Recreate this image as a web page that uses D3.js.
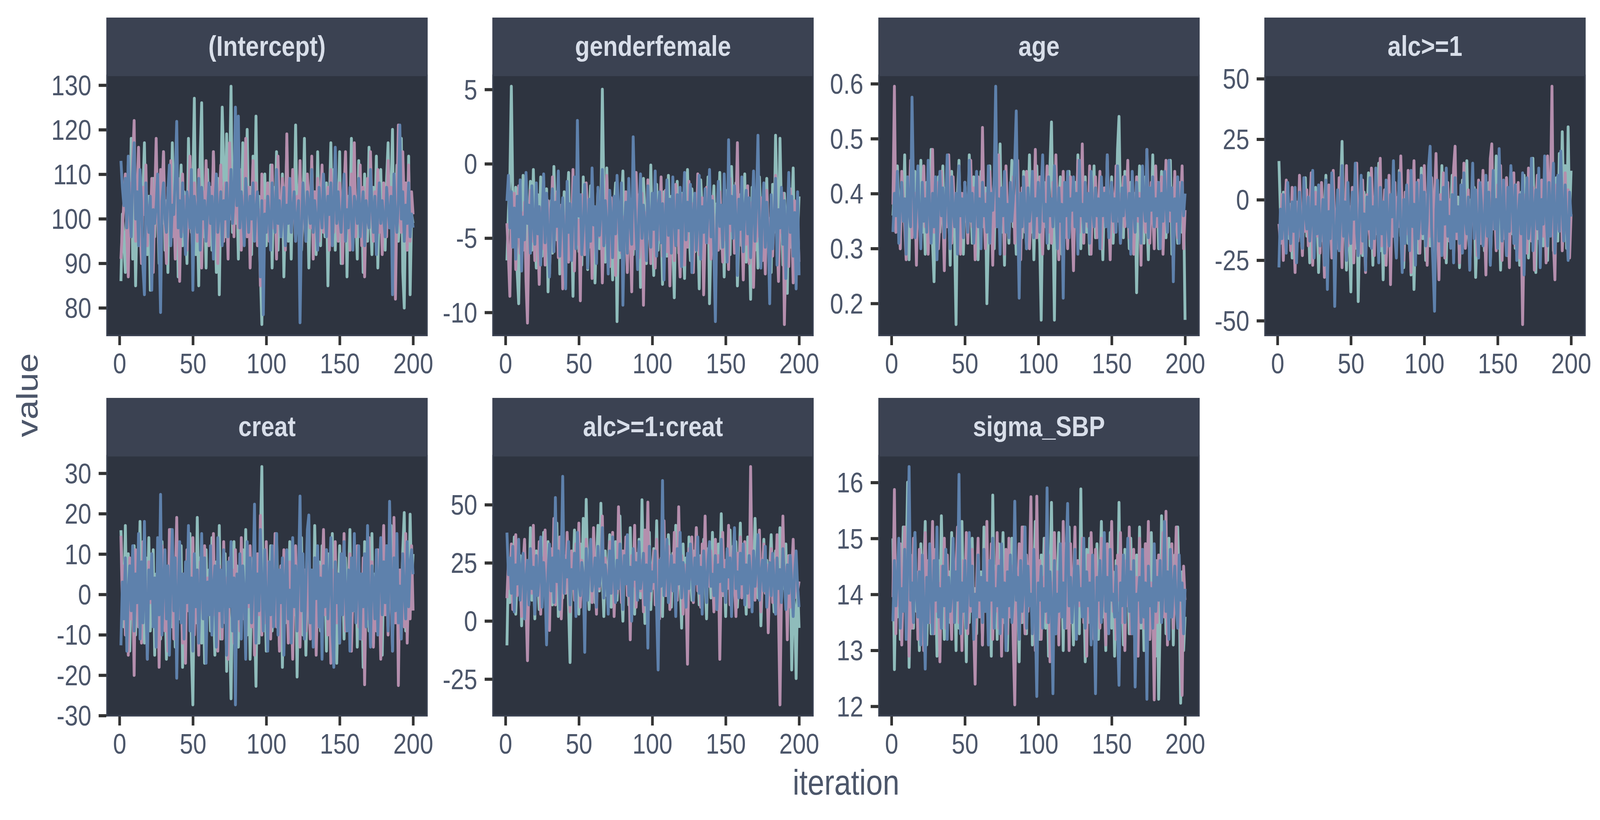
<!DOCTYPE html>
<html>
<head>
<meta charset="utf-8">
<script src="https://cdn.jsdelivr.net/npm/d3@7"></script>
<style>
html,body{margin:0;padding:0;background:#ffffff;overflow:hidden;}
svg{display:block;}
</style>
</head>
<body>
<svg id="chart"></svg>
<script>
// ---------------- data ----------------
const parameters = ["(Intercept)", "genderfemale", "age", "alc>=1", "creat", "alc>=1:creat", "sigma_SBP"];
const chains = ["1", "2", "3"];
const xTickValues = [0, 50, 100, 150, 200];
const yTickValues = [
  [80, 90, 100, 110, 120, 130],
  [-10, -5, 0, 5],
  [0.2, 0.3, 0.4, 0.5, 0.6],
  [-50, -25, 0, 25, 50],
  [-30, -20, -10, 0, 10, 20, 30],
  [-25, 0, 25, 50],
  [12, 13, 14, 15, 16]
];

const intercept_c1 = [86,101,95,88,104,112,97,118,91,108,85,103,99,110,94,106,117,98,92,105,
84,100,109,96,113,102,90,107,99,115,93,104,88,111,98,117,101,95,109,87,
103,112,94,106,99,90,118,105,97,108,127,92,101,85,114,126,96,104,89,111,
98,107,93,115,100,88,109,83,104,125,112,96,119,102,108,129.7,97,113,99,106,
91,110,101,117,95,104,120,98,107,92,114,100,123,96,105,88,76.3,99,110,94,
103,96,112,89,107,100,115,93,104,98,110,87,102,116,95,106,91,109,100,121,
97,104,111,93,101,118,95,107,89,103,113,99,106,92,115,100,94,109,102,96,
108,85,104,117,98,111,93,106,101,115,90,103,97,112,87,105,99,118,94,108,
101,91,113,97,106,88,110,103,95,116,100,92,107,98,114,89,104,111,96,102,
93,109,117,98,105,120,91,103,112,95,100,118,88,80,106,97,114,83,101,99];
const intercept_c2 = [91,98,104,110,96,87,108,100,113,122,95,105,116,99,90,107,101,112,94,103,
97,109,88,104,118,100,93,111,106,115,98,90,107,102,113,96,104,91,100,109,
86,103,110,97,105,93,101,114,99,92,108,102,95,111,104,89,106,98,113,100,
94,107,101,115,97,109,90,104,112,99,95,108,103,91,117,100,106,96,120,102,
98,111,93,105,100,118,96,107,89,103,113,99,108,94,102,85,110,97,104,100,
108,95,103,112,98,106,91,114,101,96,109,104,93,119,100,107,97,111,103,95,
105,99,113,94,108,101,96,110,103,98,114,91,106,100,109,95,104,112,97,102,
99,107,93,111,104,97,113,100,95,108,102,90,106,115,98,104,93,110,101,117,
96,105,99,112,94,107,87,103,109,98,115,101,95,106,100,111,97,104,92,108,
102,96,113,99,107,94,110,82,104,121,100,97,115,103,108,93,112,95,106,101];
const intercept_c3 = [113,107,103,109,98,114,102,96,110,117,100,106,94,111,104,89,83,108,101,97,
105,84,102,99,103,110,95,79,104,108,100,97,106,112,94,103,101,109,121.8,98,
104,96,108,100,92,106,103,98,111,84,105,101,97,109,93,107,100,104,95,102,
108,99,105,91,103,110,97,101,106,94,104,100,108,96,102,111,99,105,125,103,
123,98,106,101,94,109,103,97,105,100,108,95,102,106,99,87,104,78.5,101,97,
105,100,93,108,102,97,111,99,104,96,101,107,94,103,99,109,97,102,106,95,
100,104,76.7,98,108,101,95,106,103,99,111,97,104,100,93,107,102,98,110,103,
96,105,101,108,94,103,116,99,106,100,97,104,110,95,102,98,107,101,93,105,
103,99,109,96,102,106,94,104,100,98,111,103,97,105,92,101,108,99,104,100,
96,107,102,98,105,83,110,101,97,104,121,100,106,95,103,99,108,96,101,98];

const gender_c1 = [-6.5,-3.2,-1.0,5.2,-2.4,-4.8,-1.6,-7.3,-9.4,-3.9,-5.6,-0.8,-4.1,-2.7,-6.9,-3.5,-1.2,-5.8,-0.4,-4.4,
-7.0,-2.1,-4.9,-0.9,-6.2,-3.0,-5.3,-1.7,-8.6,-4.0,-2.5,-6.0,-0.2,-3.7,-5.1,-1.4,-7.4,-3.3,-4.6,-1.9,
-5.5,-2.8,-0.6,-6.4,-3.6,-8.9,-2.2,-4.7,-1.1,-5.9,-3.1,-6.8,-0.9,-4.3,-2.6,-7.1,-3.8,-1.5,-5.0,-2.9,
-8.0,-4.2,-1.8,-5.7,-3.4,5.0,-2.0,-6.6,-0.3,-4.5,-2.3,-5.2,-7.8,-3.0,-1.3,-10.6,-4.1,-6.3,-2.7,-0.5,
-5.4,-3.6,-7.2,-1.6,-4.8,-2.4,-6.1,-0.7,-3.9,-5.6,-2.1,-8.3,-4.4,-1.0,-3.2,-6.7,-2.8,-5.0,-0.1,-4.6,
-7.5,-3.3,-1.4,-5.8,-2.5,-4.0,-8.1,-1.9,-3.7,-6.2,-0.8,-4.9,-2.2,-5.5,-9.0,-3.1,-1.2,-6.0,-3.8,-2.0,
-5.1,-7.7,-2.9,-0.4,-4.3,-6.5,-1.7,-3.5,-5.9,-2.3,-4.7,-8.4,-1.1,-3.0,-6.3,-2.6,-4.2,-0.9,-9.4,-5.2,
-3.4,-1.5,-6.9,-2.7,-4.5,-0.6,-5.7,-3.2,-7.6,-1.8,-4.0,-2.4,-6.1,-0.2,-3.6,-5.3,-1.3,-8.2,-4.8,-2.1,
-5.5,-3.0,-0.7,-6.6,-2.8,-4.4,-9.1,-1.6,-3.9,-5.8,-2.2,-7.0,-0.9,-4.1,-2.5,-6.2,-3.3,-1.0,-5.0,-3.7,
-7.3,-1.4,-4.6,1.9,-2.6,-5.4,1.7,-3.1,-6.8,-2.0,-4.3,-8.7,-1.2,-5.6,-3.5,-0.3,-6.4,-2.9,-4.7,-2.2];
const gender_c2 = [-4.0,-6.2,-8.9,-3.1,-5.5,-2.0,-7.1,-4.4,-1.5,-6.0,-3.3,-5.8,-2.6,-7.9,-10.7,-4.6,-1.8,-5.2,-3.7,-6.5,
-2.3,-4.9,-8.1,-3.0,-5.7,-1.2,-6.8,-3.9,-2.5,-7.4,-4.3,-0.9,-5.9,-3.4,-1.9,-6.3,-4.7,-2.8,-8.4,-3.6,
-5.0,-1.6,-6.6,-3.2,-4.8,-0.4,-7.2,-2.9,-5.4,-3.8,-9.2,-2.1,-4.5,-6.1,-1.3,-3.5,-5.6,-2.4,-7.7,-4.1,
-3.0,-6.4,-1.7,-4.9,-2.6,-8.0,-3.9,-5.3,-0.8,-4.2,-6.9,-2.3,-5.0,-3.4,-7.5,-1.5,-4.6,-2.7,-6.0,-3.6,
-5.2,-1.9,-7.3,-3.1,-4.4,-8.6,-2.2,-5.7,-0.6,-3.8,-6.3,-4.7,-2.0,-9.5,-3.3,-5.5,-1.1,-4.0,-6.7,-2.8,
-4.9,-7.0,-2.5,-5.1,-3.7,-0.9,-6.2,-4.3,-1.8,-5.9,-3.2,-8.2,-2.6,-4.6,-6.5,-1.4,-3.9,-5.4,-7.6,-2.1,
-4.1,-6.8,-3.0,-5.6,-1.2,-4.4,-2.7,-7.3,-3.5,-5.0,-0.7,-6.1,-3.8,-2.3,-8.8,-4.7,-1.6,-5.3,-3.1,-6.4,
-2.2,-4.8,-9.3,-3.4,-5.8,-1.9,-4.0,-6.6,-2.9,-5.1,-3.6,-7.1,-1.0,-4.5,-2.4,-6.0,-3.3,1.4,-5.5,-2.8,
-4.2,-7.8,-3.0,-5.4,-1.5,-6.7,-4.1,-2.6,-8.3,-3.7,-5.2,-0.5,-4.9,-2.3,-6.5,-3.9,-7.4,-1.8,-4.4,-5.9,
-2.7,-6.2,-3.5,-0.8,-5.0,-7.9,-3.2,-4.6,-2.0,-10.8,-5.7,-3.4,-6.9,-1.7,-4.3,-8.0,-2.5,-5.1,-3.8,-6.6];
const gender_c3 = [-2.5,-0.8,-4.3,-1.9,-5.6,-3.0,-6.4,-2.2,-4.9,-1.1,-7.2,-3.6,-5.1,-0.6,-4.0,-2.8,-6.0,-1.5,-3.9,-5.4,
-1.3,-4.7,-2.9,-6.8,-3.4,-0.7,-5.3,-2.0,-4.5,-7.6,-3.1,-1.7,-5.9,-2.6,-4.2,-0.5,-6.2,-3.7,-2.3,-5.0,
-8.4,-1.2,-4.6,-2.7,-6.5,-3.2,-0.9,-5.7,2.9,-3.5,-2.1,-6.1,-4.4,-1.4,-3.8,-7.0,-2.4,-5.2,-0.3,-4.1,
-2.9,-6.7,-1.6,-4.8,-3.3,-0.4,-5.5,-2.5,-4.0,-7.4,-1.8,-3.6,-6.3,-2.2,-4.7,-0.8,-3.0,-5.8,-1.3,-9.5,
-4.3,-2.6,-6.0,-1.0,-3.9,-5.4,1.8,-2.3,-4.6,-7.1,-3.2,-0.7,-5.0,-2.8,-4.1,-6.5,-1.5,-3.7,-5.6,-2.0,
-4.4,-0.5,-6.2,-3.0,-1.9,-5.3,-2.7,-7.8,-3.5,-1.1,-4.8,-2.4,-6.0,-0.9,-3.8,-5.5,-2.1,-4.3,-1.6,-6.9,
-3.1,-0.6,-5.1,-2.6,-4.5,-1.4,-7.3,-3.4,-2.0,-5.8,-3.9,-0.8,-6.4,-2.9,-4.6,-1.7,-5.3,-3.2,-0.4,-4.9,
-2.5,-6.1,-10.6,-3.6,-1.2,-4.2,-2.8,-5.6,-0.7,-3.3,-6.6,1.6,-4.0,-2.2,-5.0,-1.5,-3.7,-7.5,-2.4,-4.4,
-0.9,-5.9,-3.0,-1.8,-4.7,-2.3,-6.3,-3.5,-0.5,-5.2,-2.7,1.9,-4.1,-7.0,-3.4,-1.3,-5.6,-2.6,-4.8,-9.4,
-2.1,-5.7,-3.8,-1.0,-6.8,-3.1,-4.3,-1.6,-5.4,-2.5,-7.7,-3.9,-0.6,-4.6,-2.2,-6.2,-3.3,-8.4,-1.9,-7.5];

const age_c1 = [.36,.41,.33,.45,.38,.30,.43,.35,.47,.32,.39,.28,.42,.37,.34,.44,.31,.40,.36,.46,
.33,.39,.29,.42,.37,.35,.48,.31,.24,.40,.36,.43,.33,.38,.45,.30,.41,.35,.39,.27,
.44,.37,.32,.162,.40,.46,.34,.38,.29,.42,.36,.33,.47,.39,.31,.43,.35,.40,.28,.38,
.44,.34,.37,.41,.20,.32,.45,.36,.39,.30,.43,.35,.38,.49,.33,.40,.27,.42,.36,.31,
.39,.46,.34,.37,.29,.42,.35,.40,.32,.44,.38,.30,.36,.47,.33,.41,.28,.39,.45,.35,
.31,.17,.38,.42,.34,.37,.30,.45,.53,.36,.17,.40,.33,.38,.43,.29,.35,.41,.37,.32,
.44,.36,.39,.31,.42,.34,.47,.38,.30,.40,.35,.43,.33,.37,.29,.41,.36,.45,.32,.39,
.34,.42,.37,.28,.40,.35,.46,.33,.38,.43,.31,.39,.36,.48,.54,.37,.41,.32,.44,.35,
.38,.30,.42,.36,.33,.40,.22,.37,.45,.34,.39,.31,.43,.36,.28,.41,.35,.47,.33,.38,
.42,.30,.37,.44,.34,.39,.32,.40,.36,.46,.29,.38,.43,.35,.31,.41,.37,.33,.39,.17];
const age_c2 = [.38,.595,.33,.41,.36,.30,.44,.39,.34,.28,.42,.37,.46,.32,.35,.40,.27,.43,.36,.31,
.39,.45,.34,.37,.29,.41,.36,.48,.33,.38,.42,.30,.35,.44,.37,.26,.40,.34,.47,.39,
.31,.43,.36,.38,.33,.45,.29,.40,.35,.42,.37,.31,.39,.46,.34,.41,.28,.38,.43,.36,
.32,.52,.37,.30,.40,.35,.44,.38,.27,.42,.34,.39,.47,.33,.36,.41,.29,.45,.37,.32,
.40,.35,.43,.31,.38,.46,.34,.28,.41,.37,.33,.44,.39,.30,.36,.42,.35,.48,.32,.38,
.43,.34,.29,.40,.37,.45,.33,.39,.31,.42,.36,.47,.35,.28,.41,.38,.44,.32,.37,.30,
.39,.43,.35,.26,.40,.36,.46,.33,.38,.49,.31,.42,.37,.34,.45,.29,.40,.36,.43,.32,
.38,.44,.30,.37,.41,.34,.47,.36,.28,.42,.39,.33,.45,.35,.40,.31,.37,.43,.34,.39,
.46,.32,.38,.41,.29,.36,.43,.35,.40,.27,.44,.37,.33,.48,.39,.31,.42,.36,.30,.45,
.34,.40,.37,.43,.29,.38,.46,.33,.41,.35,.39,.26,.44,.36,.32,.42,.38,.45,.30,.37];
const age_c3 = [.33,.40,.36,.44,.31,.38,.42,.35,.39,.29,.43,.37,.34,.575,.41,.32,.38,.45,.36,.30,
.42,.35,.39,.33,.46,.37,.31,.40,.34,.43,.28,.38,.44,.36,.41,.32,.39,.47,.35,.30,
.43,.37,.34,.40,.29,.45,.36,.39,.32,.42,.38,.33,.46,.35,.40,.31,.37,.44,.34,.39,
.30,.42,.36,.38,.33,.45,.31,.40,.37,.43,.595,.34,.39,.29,.41,.36,.44,.33,.38,.32,
.42,.35,.39,.46,.55,.36,.21,.40,.34,.43,.37,.30,.41,.35,.38,.44,.32,.39,.36,.42,
.33,.40,.47,.35,.38,.31,.43,.36,.39,.34,.45,.37,.30,.41,.35,.38,.21,.42,.36,.44,
.32,.39,.37,.43,.34,.40,.29,.46,.36,.38,.33,.42,.35,.40,.31,.44,.37,.34,.41,.36,
.39,.30,.43,.36,.40,.34,.47,.32,.38,.42,.35,.39,.33,.45,.37,.31,.41,.36,.43,.38,
.34,.40,.29,.44,.37,.33,.42,.36,.39,.31,.45,.38,.35,.48,.32,.41,.37,.43,.34,.39,
.36,.42,.30,.40,.35,.44,.38,.33,.46,.37,.41,.24,.39,.35,.43,.31,.38,.42,.36,.40];

const alc_c1 = [16,-5,-14,3,-20,-9,6,-16,-2,-24,-11,1,-18,-7,4,-13,-22,-3,9,-15,
-8,-26,0,-12,-19,5,-6,-30,-10,2,-17,-4,10,-21,-9,-1,-14,7,-25,-11,
-3,-18,4,24,-13,-7,-29,-2,-16,-38,0,-10,-20,6,-42,-12,-5,-23,3,-15,
-8,11,-19,-4,-27,1,-14,-9,15,-21,-6,-33,2,-17,-11,8,-24,-3,-13,4,
-20,-7,12,-15,-1,-28,-10,5,-18,-5,-31,0,-37,-12,7,-22,-8,13,-16,-3,
-25,2,-11,-19,9,-6,-30,-14,3,-21,-9,14,-17,-2,-26,6,-12,-7,10,-23,
-4,-16,1,-28,-10,8,-19,-5,16,-14,-22,0,-9,5,-32,-13,3,-18,-6,11,
-21,-2,-15,7,-26,-8,2,-12,18,-19,-4,-29,4,-11,-16,9,-23,-7,13,-14,
-1,-20,6,-10,-27,3,-15,10,-18,-6,-24,1,-12,17,-9,-30,5,-16,-3,8,
-19,12,-7,-25,2,-13,15,-21,-5,9,-17,19,-10,28,-4,14,-20,30,-8,12];
const alc_c2 = [-10,-18,2,-25,-6,8,-14,-3,-21,5,-12,-30,-1,-17,10,-8,-23,0,-13,4,
-19,-5,11,-27,-9,3,-15,-2,-22,7,-11,-32,1,-16,6,-7,-24,12,-13,-4,
-20,9,-8,-28,0,-14,14,-19,-3,-11,5,-26,-6,15,-17,-1,-22,8,-12,-30,
2,-9,-16,13,-5,-23,6,-13,-1,17,-19,-7,4,-27,-10,10,-35,-3,-15,7,
-21,1,-11,18,-6,-25,3,-14,12,-9,-30,-2,16,-18,-4,8,-22,0,-12,14,
-7,-27,5,-15,9,-20,-1,19,-10,-33,2,-13,11,-24,-5,7,-17,0,-9,13,
22,-16,-3,-26,6,-11,15,-20,-6,4,-29,-8,10,-14,1,-23,8,-4,-18,12,
-9,-31,3,-15,17,23,-12,-2,-21,6,-7,14,-25,-1,-16,9,-10,-28,4,-13,
11,-19,-5,7,-24,-8,-51.5,-14,2,-22,13,-6,-17,5,-29,-3,10,-11,-20,8,
-15,1,-26,18,-9,3,46.8,-18,-33,6,-12,-2,16,-21,-7,11,-14,4,-24,-6];
const alc_c3 = [-28,-4,-16,2,-11,-22,7,-7,-18,-1,-13,5,-26,-9,3,-15,-20,9,-6,-12,
1,-17,-8,12,-24,-3,-14,6,-19,-10,0,-27,8,-37,-5,-16,11,-2,-44,-13,
4,-21,-7,14,-15,-1,-25,7,-11,-18,3,-8,15,-14,-23,-4,10,-17,-6,-29,
1,-12,9,-20,-3,-16,13,-9,-26,5,-14,-1,-22,8,-10,-19,2,-7,16,-15,
-24,-5,11,-13,-30,0,-18,6,-8,-21,12,-11,-2,-27,7,-16,-6,10,-14,3,
-19,-9,14,22,-12,-28,-46,-4,8,-17,-1,-23,5,-10,13,-15,-7,-20,2,-26,
9,-13,-3,-18,6,-22,11,-8,-14,1,-29,-5,15,-16,4,-11,-24,7,-2,-19,
-9,10,-15,3,-27,-6,12,-12,0,-20,21,-4,-17,8,-10,-23,5,-13,14,-1,
-18,6,-25,-7,2,-14,11,-31,-3,9,-16,-9,17,-21,-5,4,-12,13,-28,0,
-10,18,-6,-19,7,-15,-1,15,-22,-8,10,-13,20,-4,-17,6,-11,-25,3,-7];

const creat_c1 = [15.9,4,-8,17,-3,10,-14,2,-6,12,-10,6,-1,18,-7,3,-12,9,-4,14,
-9,1,11,-15,5,-2,8,-11,13,-5,0,-16,7,-3,16,-8,4,-13,10,-1,
-6,12,-18,2,-10,7,-4,15,-14,-27.3,5,-7,19,-2,9,-12,3,-17,11,-5,
6,-9,14,-1,-15,8,-6,17,-11,2,-3,10,-19,4,-8,-25.8,1,13,-5,7,
-13,3,-7,11,-2,16,-10,5,-16,0,9,-4,-22.7,6,-12,14,31.6,-8,2,-14,
8,-3,12,-9,4,-6,15,-1,-13,7,-18,3,-7,10,-2,13,-11,5,-5,9,
-20.4,1,-4,14,-10,6,-15,2,11,-7,4,-12,17,-1,-6,8,-9,12,-3,5,
-14,10,-5,2,15,-8,7,-17,0,12,-3,6,-11,9,-6,3,16,-10,1,-4,
11,-13,7,-2,4,-18,13,-6,8,-9,2,15,-12,5,-3,10,-7,1,-15,6,
-1,12,-8,4,17,-11,3,-5,9,-14,6,-2,11,20.2,-9,7,-4,19.8,2,10];
const creat_c2 = [14.5,-3,7,-10,2,-15,9,-6,4,-20,11,-1,-8,5,-12,13,-4,0,-16,8,
-2,10,-7,3,-13,6,-18,1,12,-5,-9,4,-14,16,-3,7,-11,2,19,-6,
9,-1,-12,5,-17,11,-4,3,-8,14,-10,6,-2,-15,8,1,-6,12,-13,4,
-3,10,-9,15,-5,2,-14,7,-1,-11,13,-7,4,-16,9,-2,6,-12,11,-4,
3,-9,14,-6,1,-13,8,-3,12,-8,5,-15,2,10,-5,19.5,-10,4,-7,13,
-2,6,-11,9,-4,15,-8,1,-14,7,-3,11,-6,3,-12,8,-1,-16,5,12,
-7,2,-13,10,-4,6,-9,14,-2,-11,4,-6,9,-15,1,7,-8,3,16,-5,
11,-10,2,-17,6,-3,13,-7,4,-12,8,-1,15,-9,3,-5,10,-14,0,7,
-4,12,-8,5,-11,9,-22.3,2,-6,14,-3,8,-13,4,-9,11,-1,-16,6,17,
-5,3,-10,9,1,-14,19,-7,13,-22.5,6,-3,10,-8,15,-12,4,-6,12,-4];
const creat_c3 = [-12.6,3,-6,9,-14,1,7,-4,12,-9,5,-2,15,-11,8,-7,18,-3,-16,6,
-1,10,-8,4,-13,14,-5,24.7,-10,2,11,-6,7,-15,3,16,-4,9,-20.7,0,
13,-7,5,-11,8,-2,17,-9,4,-14,10,-3,6,-12,1,15,-6,9,-17,3,
-5,12,-10,2,7,-13,14,-4,6,-8,11,0,-15,8,-3,13,-9,4,-27.3,5,
-6,10,-11,7,1,-16,13,-2,9,-7,3,22.3,-12,5,-4,16,2,-9,11,-1,
-14,8,-5,12,-8,3,15,-10,6,-2,9,-15,4,11,-6,1,-12,14,-3,7,
-9,5,24.3,-4,10,-11,2,16,19.6,-7,6,-13,9,-1,12,-8,4,-16,7,-3,
11,-6,3,14,-10,-18,8,-2,5,-12,10,-5,13,1,-9,6,-14,9,-4,15,
-7,2,12,-11,5,-3,10,-8,17,-1,-13,7,3,-6,11,-10,4,14,-5,8,
-2,12,-9,23,5,-14,9,-4,15,-7,2,-11,10,1,-6,13,-3,8,11,5];

const alccreat_c1 = [-10.5,24,8,31,15,36,3,21,12,28,-2,18,33,6,25,14,40,9,22,1,
30,17,5,27,13,38,20,-4,34,11,24,7,29,16,42,2,19,35,10,23,
14,31,6,-17.8,26,18,39,9,22,3,33,15,44,12,52.2,20,5,28,17,36,
8,25,41,13,50.5,19,2,30,11,23,37,6,27,15,34,9,21,45,14,0,
26,18,32,7,40,12,24,3,29,16,35,10,52,20,-1,28,14,38,5,22,
31,13,43,8,26,17,2,34,19,11,37,23,6,29,15,41,10,25,18,-3,
33,12,27,4,36,20,9,30,16,40,22,7,28,13,35,18,1,31,24,10,
38,15,26,5,33,19,46,11,23,2,30,17,39,9,25,14,34,6,21,42,
12,28,18,3,36,20,8,31,15,44,24,10,29,-2,19,35,13,26,7,22,
37,16,4,30,11,25,40,9,21,14,33,1,18,28,-21,12,6,-24.7,16,-3];
const alccreat_c2 = [9.8,26,14,33,5,21,37,11,29,17,2,24,35,8,-17,19,30,12,41,6,
23,15,34,3,27,18,39,10,22,-4,31,14,44,7,25,16,36,1,20,28,
12,38,19,4,30,23,9,33,15,42,6,26,17,-6,35,11,22,29,8,40,
18,3,31,14,24,45,10,27,19,5,34,16,38,2,22,12,49,25,8,30,
17,36,11,23,-8,28,15,41,6,20,33,13,26,4,39,18,51,9,24,14,
30,7,35,19,1,27,16,43,11,22,32,5,25,14,38,20,9,49,17,28,
3,24,12,-18.5,31,18,36,8,21,40,13,27,6,33,19,45,10,25,15,30,
22,4,35,17,28,-16.4,20,38,11,26,14,41,7,23,32,16,2,29,19,36,
10,25,34,13,21,6,66.3,18,30,9,27,15,39,4,22,33,12,24,-5,19,
31,8,26,14,37,3,-36,11,45,17,23,-8,28,6,20,35,10,24,13,17];
const alccreat_c3 = [38,20,27,12,32,4,24,16,35,9,22,29,1,18,26,7,31,14,23,3,
28,11,19,36,6,25,15,-10.2,21,33,13,27,8,53,17,30,5,24,62.1,12,
26,19,34,7,22,14,29,2,38,16,11,25,20,-13.4,31,9,23,35,13,18,
27,6,32,15,21,40,10,24,17,3,30,12,36,19,8,26,14,33,22,5,
28,16,37,11,23,0,31,18,25,9,34,14,20,29,7,24,-11.6,32,13,21,
17,30,4,-21,26,15,60.3,11,22,35,8,19,28,13,24,2,31,16,38,10,
25,18,6,29,14,33,21,9,27,16,36,12,23,3,30,19,8,26,34,15,
20,11,28,5,24,17,35,13,22,8,31,19,27,2,25,40,14,21,10,29,
16,33,7,24,12,28,19,4,30,15,23,37,9,20,26,13,32,6,18,25,
11,29,17,3,27,14,22,8,31,19,5,24,12,28,16,2,21,30,15,6];

const sigma_c1 = [15.0,12.66,14.3,13.6,14.8,13.2,14.1,15.2,13.8,14.5,16.0,12.7,13.9,14.6,13.4,15.1,13.7,14.2,13.0,14.9,
13.5,14.4,15.3,13.1,14.0,14.7,13.3,15.0,13.8,14.3,12.9,14.6,13.6,15.4,14.1,13.2,14.8,13.9,14.4,13.5,
15.1,13.7,14.2,13.0,14.9,13.4,14.5,15.3,13.8,14.0,12.8,14.7,13.5,14.3,15.0,13.6,14.1,13.3,14.8,13.9,
14.4,13.1,15.2,13.7,14.6,13.4,14.0,12.9,15.77,13.8,14.5,13.2,14.9,13.6,14.2,15.1,13.5,14.7,13.0,14.3,
13.9,15.0,13.4,14.6,13.7,14.2,12.8,14.8,13.5,15.2,14.0,13.3,14.5,13.8,14.9,13.1,14.3,15.3,13.6,14.1,
13.2,14.7,13.9,15.0,13.4,14.4,12.9,14.1,15.64,13.6,14.8,13.3,14.2,15.1,13.7,14.5,13.0,14.9,13.8,14.3,
15.2,13.5,14.0,13.1,14.6,13.9,14.4,13.3,15.88,13.7,14.2,12.8,14.8,13.5,15.0,14.1,13.4,14.5,13.8,14.9,
13.2,14.3,15.3,13.6,14.0,13.0,14.7,13.9,15.1,13.4,14.4,12.9,14.6,13.7,15.64,13.5,14.2,13.1,14.8,13.8,
14.5,13.3,15.0,13.9,14.1,12.7,14.7,13.6,15.2,13.4,14.3,13.0,14.9,13.7,14.4,13.2,15.1,13.8,14.0,12.9,
14.6,12.13,13.5,15.4,13.9,14.8,13.3,14.2,15.0,13.6,14.5,13.1,14.7,13.8,15.2,14.1,12.06,14.4,13.0,13.6];
const sigma_c2 = [13.95,15.87,13.3,14.5,13.8,14.9,13.1,14.2,15.2,13.6,14.0,12.9,14.7,13.4,15.0,13.9,14.4,13.2,14.8,13.7,
14.3,13.0,15.1,13.8,14.6,13.5,14.1,15.3,13.3,14.8,13.7,14.2,12.8,14.5,13.9,15.0,13.4,14.7,13.6,14.0,
13.2,14.9,13.8,14.4,15.2,13.5,14.1,13.0,14.6,13.9,15.1,13.3,14.5,13.7,14.8,13.4,12.4,14.2,15.0,13.6,
14.3,13.1,14.7,13.8,15.3,13.5,14.0,14.9,13.2,14.4,13.7,15.1,13.4,14.6,12.9,14.2,13.9,14.8,13.3,15.0,
13.6,14.5,13.1,12.03,14.3,13.8,14.9,13.5,15.2,14.0,13.3,14.7,13.7,14.4,15.74,13.4,14.1,13.0,15.75,13.9,
14.6,13.2,14.3,13.8,15.0,13.5,14.7,12.8,14.2,13.6,15.1,13.9,14.4,13.1,14.8,13.7,15.3,14.0,13.4,14.5,
13.0,14.9,13.6,14.2,15.2,13.3,14.6,13.8,14.0,15.0,13.5,14.4,12.9,14.7,13.7,15.1,14.1,13.2,14.8,13.9,
14.3,13.4,15.0,13.8,14.5,13.1,14.9,13.6,14.2,15.3,13.7,14.0,13.2,14.7,13.9,15.1,13.5,14.4,13.0,14.6,
13.8,15.2,13.3,14.1,14.8,13.6,14.3,12.9,15.0,13.7,14.5,13.4,14.9,13.9,15.3,13.2,14.2,13.8,12.12,14.6,
13.5,14.7,13.9,14.3,15.1,13.6,15.48,13.1,14.4,13.8,14.9,13.4,14.2,15.2,13.7,14.0,13.3,12.2,14.5,13.9];
const sigma_c3 = [13.52,14.6,13.8,14.3,15.0,13.4,14.1,13.7,14.8,13.2,14.5,16.28,13.9,14.2,13.5,15.1,14.0,13.6,14.4,13.1,
14.7,13.8,12.67,14.3,13.5,14.9,14.0,13.3,14.6,13.9,15.2,13.6,14.1,13.4,14.5,13.8,14.8,13.2,14.3,13.7,
14.0,15.0,13.5,14.4,13.9,16.14,13.3,14.2,13.7,14.6,13.4,14.1,15.1,13.8,14.5,13.2,14.0,13.6,14.7,13.9,
14.3,13.5,14.8,13.7,14.2,13.1,14.6,13.9,15.0,13.4,14.1,13.8,14.5,13.3,14.9,13.6,14.2,13.0,14.4,13.8,
14.7,13.5,14.0,15.66,13.9,14.3,13.2,14.6,13.7,14.1,15.2,13.4,14.5,13.8,14.0,13.3,14.8,13.6,12.18,14.2,
13.9,14.5,13.4,14.1,13.7,15.9,13.5,14.4,13.8,12.23,14.6,13.3,14.0,13.7,14.9,13.6,14.2,13.4,14.7,15.62,
13.8,14.3,13.5,14.0,14.8,13.2,14.5,13.9,14.1,13.6,15.0,13.4,14.4,13.8,14.2,13.1,14.7,13.7,12.23,14.3,
13.9,14.6,13.5,14.1,15.1,13.7,14.3,13.3,14.8,13.9,14.0,13.6,14.5,13.4,12.38,14.2,13.8,14.7,13.5,14.1,
15.0,13.7,14.4,13.3,14.6,12.35,14.0,13.9,14.3,13.5,14.8,13.6,14.2,12.13,14.5,13.8,14.1,13.4,14.9,13.7,
14.3,13.9,14.6,13.5,14.0,15.3,13.7,14.4,13.2,14.8,13.6,14.1,14.5,13.8,13.4,14.7,13.9,14.2,13.3,14.1];

const seriesByParameter = [
  [intercept_c1, intercept_c2, intercept_c3],
  [gender_c1, gender_c2, gender_c3],
  [age_c1, age_c2, age_c3],
  [alc_c1, alc_c2, alc_c3],
  [creat_c1, creat_c2, creat_c3],
  [alccreat_c1, alccreat_c2, alccreat_c3],
  [sigma_c1, sigma_c2, sigma_c3]
];

// ---------------- styling / layout (design space 4800 x 2100) ----------------
const chainColors = ["#8FBCBB", "#B48EAD", "#5E81AC"];
const FONT = "'Liberation Sans', Arial, Helvetica, sans-serif";
const colLeft = [319, 1477, 2635, 3793];
const panelW = 964;
const stripTop = [45, 1019];
const stripH = 146;
const plotH = 670;
const tickLen = 23;

const vw = Math.max(1, document.documentElement.clientWidth || window.innerWidth || 4800);
const vh = Math.max(1, document.documentElement.clientHeight || window.innerHeight || 2100);

const svg = d3.select("#chart")
  .attr("width", vw).attr("height", vh)
  .attr("viewBox", "0 0 4800 2100")
  .attr("preserveAspectRatio", "none");
svg.append("rect").attr("width", 4800).attr("height", 2100).attr("fill", "#ffffff");

const fmtTick = (p) => (d) => (p === 2 ? d.toFixed(1) : String(d));

parameters.forEach((name, p) => {
  const row = Math.floor(p / 4), col = p % 4;
  const x0 = colLeft[col];
  const sTop = stripTop[row];
  const pTop = sTop + stripH;
  const pBot = pTop + plotH;
  const series = seriesByParameter[p];

  const n = d3.max(series, s => s.length);
  const xr = n - 1;
  const x = d3.scaleLinear().domain([1 - 0.05 * xr, n + 0.05 * xr]).range([x0, x0 + panelW]);
  const all = series.flat();
  const [ymin, ymax] = d3.extent(all);
  const yr = ymax - ymin;
  const y = d3.scaleLinear().domain([ymin - 0.05 * yr, ymax + 0.05 * yr]).range([pBot, pTop]);

  const g = svg.append("g");

  g.append("rect").attr("x", x0).attr("y", pTop).attr("width", panelW).attr("height", plotH)
    .attr("fill", "#2E3440");

  const line = d3.line().x((d, i) => x(i + 1)).y(d => y(d));
  series.forEach((s, c) => {
    g.append("path").datum(s).attr("d", line)
      .attr("fill", "none").attr("stroke", chainColors[c])
      .attr("stroke-width", 8.5).attr("stroke-linejoin", "round").attr("stroke-linecap", "butt");
  });

  g.append("rect").attr("x", x0 + 2).attr("y", pTop + 2).attr("width", panelW - 4).attr("height", plotH - 4)
    .attr("fill", "none").attr("stroke", "#3B4252").attr("stroke-width", 4);

  g.append("rect").attr("x", x0).attr("y", sTop).attr("width", panelW).attr("height", stripH)
    .attr("fill", "#3B4252");
  g.append("text").attr("x", x0 + panelW / 2).attr("y", sTop + stripH / 2)
    .attr("dy", "0.35em").attr("text-anchor", "middle")
    .attr("font-family", FONT).attr("font-weight", "bold").attr("font-size", 72)
    .attr("fill", "#D8DEE9").text(name);

  const yAxis = d3.axisLeft(y).tickValues(yTickValues[p]).tickSize(tickLen).tickPadding(22)
    .tickFormat(fmtTick(p));
  const ya = g.append("g").attr("transform", `translate(${x0},0)`).call(yAxis);
  ya.select(".domain").remove();
  ya.selectAll(".tick line").attr("stroke", "#333333").attr("stroke-width", 8);
  ya.selectAll(".tick text").attr("fill", "#4C566A").attr("font-family", FONT).attr("font-size", 72)
    .attr("dy", "0.35em").attr("x", -(tickLen + 22));

  const xAxis = d3.axisBottom(x).tickValues(xTickValues).tickSize(tickLen).tickPadding(20)
    .tickFormat(d => String(d));
  const xa = g.append("g").attr("transform", `translate(0,${pBot})`).call(xAxis);
  xa.select(".domain").remove();
  xa.selectAll(".tick line").attr("stroke", "#333333").attr("stroke-width", 8);
  xa.selectAll(".tick text").attr("fill", "#4C566A").attr("font-family", FONT).attr("font-size", 72)
    .attr("dy", null).attr("y", 95);
});

svg.append("text").attr("x", 2538).attr("y", 2035).attr("text-anchor", "middle")
  .attr("font-family", FONT).attr("font-size", 90).attr("fill", "#4C566A").text("iteration");
svg.append("text").attr("transform", "translate(113,1012) rotate(-90)").attr("text-anchor", "middle")
  .attr("font-family", FONT).attr("font-size", 90).attr("fill", "#4C566A").text("value");
</script>
</body>
</html>
